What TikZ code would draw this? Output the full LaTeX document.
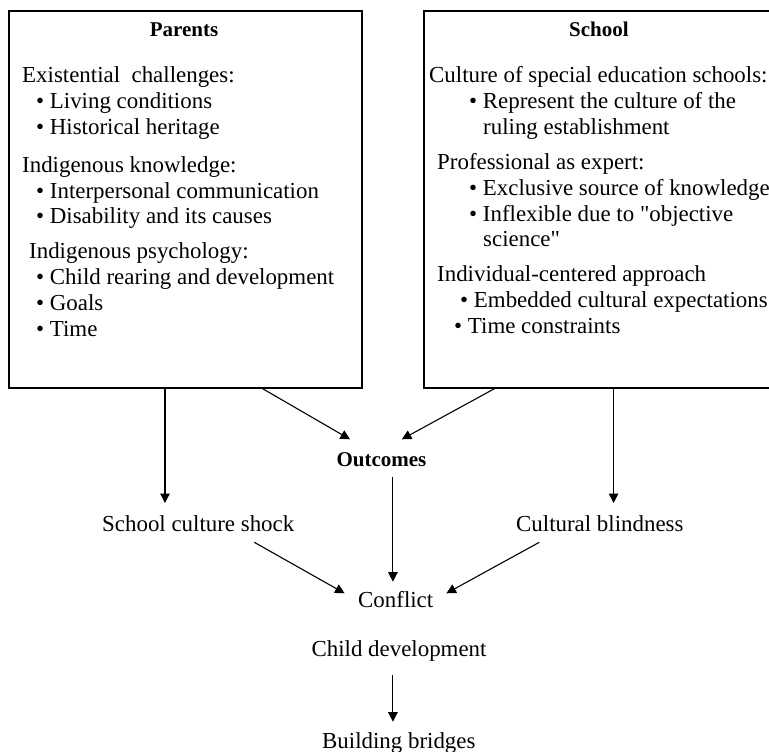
\documentclass[tikz,border=0pt]{standalone}
\usepackage{fontspec}
\setmainfont{Liberation Serif}
\newfontfamily\plainquote{Liberation Serif}[Ligatures=ResetAll]
\newcommand{\sq}{{\plainquote\symbol{34}}}
\usetikzlibrary{calc,arrows.meta}
\begin{document}
\begin{tikzpicture}[x=1pt,y=-1pt,
  box/.style={draw, line width=1.6pt, rectangle, minimum width=353pt, minimum height=377pt, anchor=north west, inner sep=0pt},
  txt/.style={font=\fontsize{22.9}{26}\selectfont, inner sep=0pt, anchor=base west},
  ttl/.style={font=\fontsize{21}{24}\selectfont\bfseries, inner sep=0pt, anchor=base},
  arr/.style={line width=1.1pt, -{Triangle[length=9.5pt,width=9.5pt]}}]
\useasboundingbox (0,0) rectangle (769,752);
\node[box] (parents) at (8,10) {};
\node[box] (school) at (423,10) {};
\node[ttl] (pt) at (184,37) {Parents};
\node[ttl] (st) at (599,37) {School};
% left box text
\node[txt] (p1) at (22,83) {Existential\ \ challenges:};
\node[txt] (p2) at (36,109) {\textbullet\ Living conditions};
\node[txt] (p3) at (36,134.5) {\textbullet\ Historical heritage};
\node[txt] (p4) at (22,172) {Indigenous knowledge:};
\node[txt] (p5) at (36,198) {\textbullet\ Interpersonal communication};
\node[txt] (p6) at (36,223) {\textbullet\ Disability and its causes};
\node[txt] (p7) at (29,258) {Indigenous psychology:};
\node[txt] (p8) at (36,284) {\textbullet\ Child rearing and development};
\node[txt] (p9) at (36,310) {\textbullet\ Goals};
\node[txt] (p10) at (36,336) {\textbullet\ Time};
% right box text
\node[txt] (s1) at (429,83) {Culture of special education schools:};
\node[txt] (s2) at (469,109) {\textbullet\ Represent the culture of the};
\node[txt] (s3) at (483,135) {ruling establishment};
\node[txt] (s4) at (437,169) {Professional as expert:};
\node[txt] (s5) at (469,195) {\textbullet\ Exclusive source of knowledge};
\node[txt] (s6) at (469,221) {\textbullet\ Inflexible due to \sq objective};
\node[txt] (s7) at (483,246) {science\sq};
\node[txt] (s8) at (437,281) {Individual-centered approach};
\node[txt] (s9) at (460,307) {\textbullet\ Embedded cultural expectations};
\node[txt] (s10) at (454,333) {\textbullet\ Time constraints};
% bottom nodes
\node[ttl] (outc) at (381.5,466) {Outcomes};
\node[txt] (shock) at (102,531) {School culture shock};
\node[txt] (blind) at (516,531) {Cultural blindness};
\node[txt] (conf) at (358,607.7) {Conflict};
\node[txt] (child) at (311.4,656) {Child development};
\node[txt] (bridges) at (322,748.3) {Building bridges};
% connectors
\draw[arr] ($(parents.south west)+(157,0)$) -- ($(shock.base west)+(63,-28)$);
\draw[arr] ($(parents.south west)+(254.5,0)$) -- ($(outc.base)+(-31.5,-26.7)$);
\draw[arr] ($(school.south west)+(71.6,0)$) -- ($(outc.base)+(20.3,-26.7)$);
\draw[arr] ($(outc.base)+(11.4,10.7)$) -- ($(conf.base west)+(34.9,-26)$);
\draw[arr] ($(school.south west)+(190.6,0)$) -- ($(blind.base west)+(97.6,-28)$);
\draw[arr] ($(shock.base west)+(152.3,11.3)$) -- ($(conf.base west)+(-13.4,-14.4)$);
\draw[arr] ($(blind.base west)+(23.3,11.3)$) -- ($(conf.base west)+(88.4,-14.4)$);
\draw[arr] ($(child.base west)+(81.5,19)$) -- ($(bridges.base west)+(70.9,-26.6)$);
\end{tikzpicture}
\end{document}
